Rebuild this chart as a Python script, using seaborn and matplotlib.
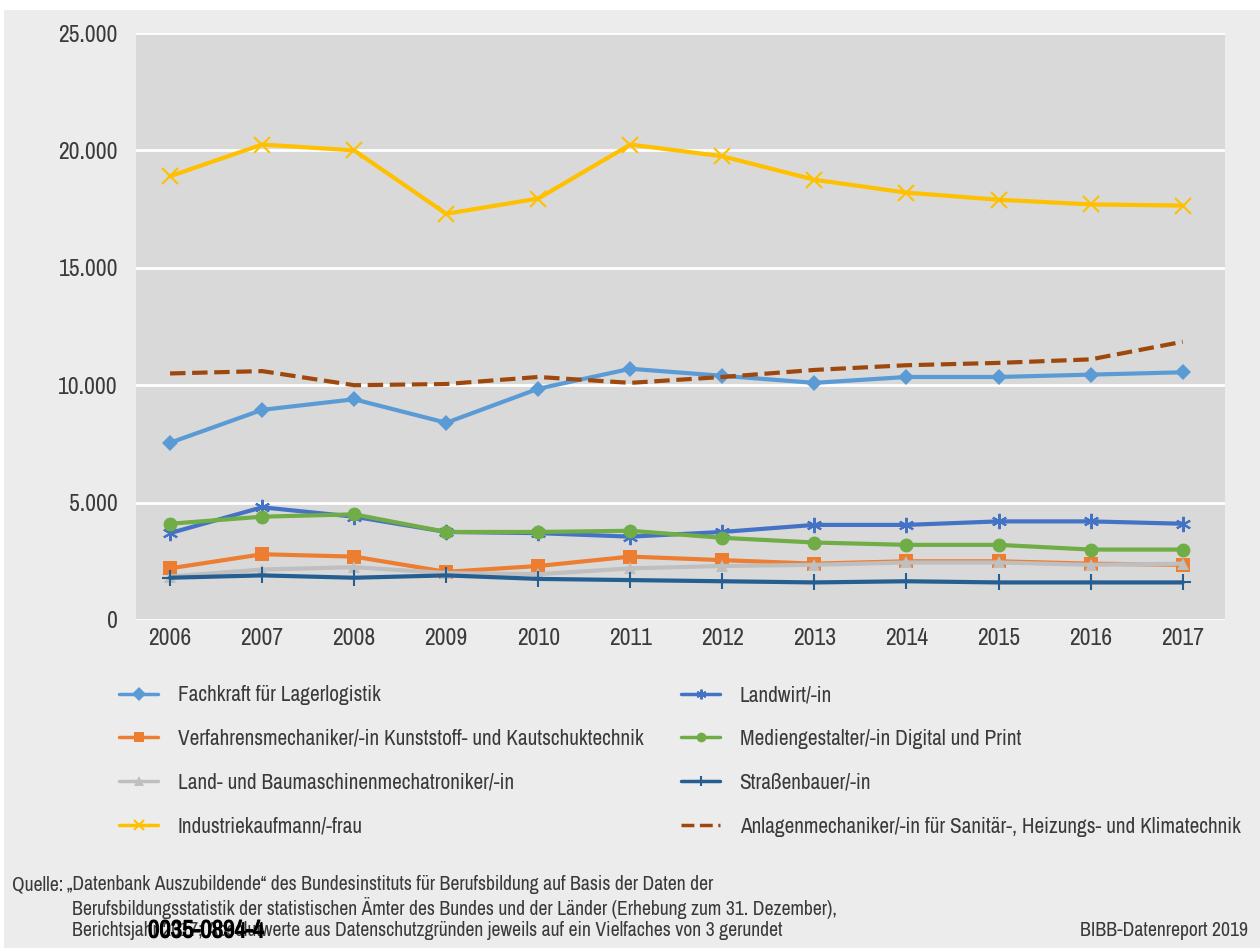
import matplotlib
matplotlib.use('Agg')
import matplotlib.pyplot as plt
import matplotlib.patches as mpatches
import matplotlib.patheffects as pe
from matplotlib import font_manager
from matplotlib.font_manager import FontProperties
import seaborn as sns
import pandas as pd

# Data (Auszubildende je Beruf)
years = [2006, 2007, 2008, 2009, 2010, 2011, 2012, 2013, 2014, 2015, 2016, 2017]

fachkraft = [7550, 8950, 9400, 8400, 9850, 10700, 10400, 10100, 10350, 10350, 10450, 10550]
landwirt = [3700, 4800, 4400, 3750, 3700, 3550, 3750, 4050, 4050, 4200, 4200, 4100]
verfahren = [2200, 2800, 2700, 2050, 2300, 2700, 2550, 2400, 2500, 2500, 2400, 2350]
medien = [4100, 4400, 4500, 3750, 3750, 3800, 3500, 3300, 3200, 3200, 3000, 3000]
landbau = [1850, 2150, 2250, 2000, 1950, 2200, 2300, 2350, 2450, 2450, 2350, 2400]
strasse = [1800, 1900, 1800, 1900, 1750, 1700, 1650, 1600, 1650, 1600, 1600, 1600]
industrie = [18900, 20250, 20000, 17300, 17950, 20250, 19750, 18750, 18200, 17900, 17700, 17650]
anlagen = [10500, 10600, 10000, 10050, 10350, 10100, 10350, 10650, 10850, 10950, 11100, 11850]

labels = [
    'Fachkraft für Lagerlogistik',
    'Landwirt/-in',
    'Verfahrensmechaniker/-in Kunststoff- und Kautschuktechnik',
    'Mediengestalter/-in Digital und Print',
    'Land- und Baumaschinenmechatroniker/-in',
    'Straßenbauer/-in',
    'Industriekaufmann/-frau',
    'Anlagenmechaniker/-in für Sanitär-, Heizungs- und Klimatechnik',
]
series = [fachkraft, landwirt, verfahren, medien, landbau, strasse, industrie, anlagen]

colors = ['#5b9bd5', '#4472c4', '#ed7d31', '#70ad47', '#bfbfbf', '#255e91', '#ffc000', '#9e480e']
markers = ['D', (6, 2, 0), 's', 'o', '^', '+', 'x', None]
msizes = [8, 11, 10, 10, 9, 12, 11, 0]

sns.set_style('white')


# look for a condensed / narrow face, the original uses a condensed sans
def find_narrow():
    prefs = ['Narrow', 'Condensed', 'Cond']
    for key in prefs:
        for f in font_manager.fontManager.ttflist:
            if key.lower() in f.name.lower() and f.weight in (400, 'normal', 'regular') \
                    and f.style == 'normal':
                return f.fname
    for f in font_manager.fontManager.ttflist:
        if f.stretch in ('condensed', 'semi-condensed') and f.style == 'normal' \
                and f.weight in (400, 'normal', 'regular'):
            return f.fname
    return None


narrow = find_narrow()


def fp(size):
    if narrow:
        return FontProperties(fname=narrow, size=size)
    return FontProperties(family='DejaVu Sans', size=size * 0.82)


fig = plt.figure(figsize=(12.6, 9.48), dpi=100)
fig.patch.set_facecolor('#ececec')
# white strips at top and left edge
fig.patches.append(mpatches.Rectangle((0, 1 - 10 / 948), 1, 10 / 948, transform=fig.transFigure,
                                      facecolor='white', edgecolor='none', zorder=0))
fig.patches.append(mpatches.Rectangle((0, 0), 4 / 1260, 1, transform=fig.transFigure,
                                      facecolor='white', edgecolor='none', zorder=0))

ax = fig.add_axes([136 / 1260, (948 - 620) / 948, (1225 - 136) / 1260, (620 - 33) / 948])
ax.set_facecolor('#d9d9d9')

idx = list(range(len(years)))
handles = []
for name, vals, col, mk, ms in zip(labels, series, colors, markers, msizes):
    df = pd.DataFrame({'x': idx, 'y': vals})
    ls = '--' if mk is None else '-'
    thin = mk in ('+', 'x') or isinstance(mk, tuple)
    sns.lineplot(data=df, x='x', y='y', ax=ax, color=col, linewidth=3, linestyle=ls,
                 marker=mk, markersize=ms, markeredgewidth=1.5 if thin else 0,
                 markeredgecolor=col, zorder=3)
    handles.append(ax.lines[-1])

ax.set_xlim(-0.37, 11.46)
ax.set_ylim(0, 25000)
ax.set_yticks([0, 5000, 10000, 15000, 20000, 25000])
ax.set_yticklabels(['0', '5.000', '10.000', '15.000', '20.000', '25.000'])
ax.set_xticks(idx)
ax.set_xticklabels([str(y) for y in years])
for t in ax.get_xticklabels() + ax.get_yticklabels():
    t.set_fontproperties(fp(17))
    t.set_color('#3a3a3a')
ax.tick_params(axis='both', length=0)
ax.tick_params(axis='y', pad=13)
ax.tick_params(axis='x', pad=6)
ax.set_xlabel('')
ax.set_ylabel('')
ax.grid(axis='y', color='white', linewidth=2)
ax.grid(axis='x', visible=False)
ax.set_axisbelow(True)
for s in ax.spines.values():
    s.set_visible(False)

# two legends side by side, filled row by row like the original
left = [0, 2, 4, 6]
right = [1, 3, 5, 7]
for cols, x0 in ((left, 100), (right, 662)):
    leg = fig.legend([handles[i] for i in cols], [labels[i] for i in cols], ncol=1,
                     loc='upper left', bbox_to_anchor=(x0 / 1260, 1 - 666 / 948),
                     frameon=False, prop=fp(15.3), handlelength=1.85,
                     labelspacing=1.12, handletextpad=0.9, labelcolor='#3a3a3a')
    for h in leg.legend_handles:
        h.set_linewidth(2.5)
        h.set_markersize(7)

foot = dict(color='#3a3a3a', va='center', fontproperties=fp(14.2))
fig.text(12 / 1260, 1 - 885 / 948, 'Quelle:', **foot)
fig.text(67 / 1260, 1 - 885 / 948,
         '„Datenbank Auszubildende“ des Bundesinstituts für Berufsbildung auf Basis der Daten der', **foot)
fig.text(72 / 1260, 1 - 908 / 948,
         'Berufsbildungsstatistik der statistischen Ämter des Bundes und der Länder (Erhebung zum 31. Dezember),',
         **foot)
fig.text(72 / 1260, 1 - 930 / 948,
         'Berichtsjahr 2017; Absolutwerte aus Datenschutzgründen jeweils auf ein Vielfaches von 3 gerundet', **foot)
fig.text(148 / 1260, 1 - 930 / 948, '0035-0894-4', color='black', va='center',
         fontproperties=fp(18),
         path_effects=[pe.withStroke(linewidth=0.8, foreground='black')])
fig.text(1248 / 1260, 1 - 930 / 948, 'BIBB-Datenreport 2019', ha='right', **foot)

fig.savefig('out.png', dpi=100, facecolor=fig.get_facecolor())
